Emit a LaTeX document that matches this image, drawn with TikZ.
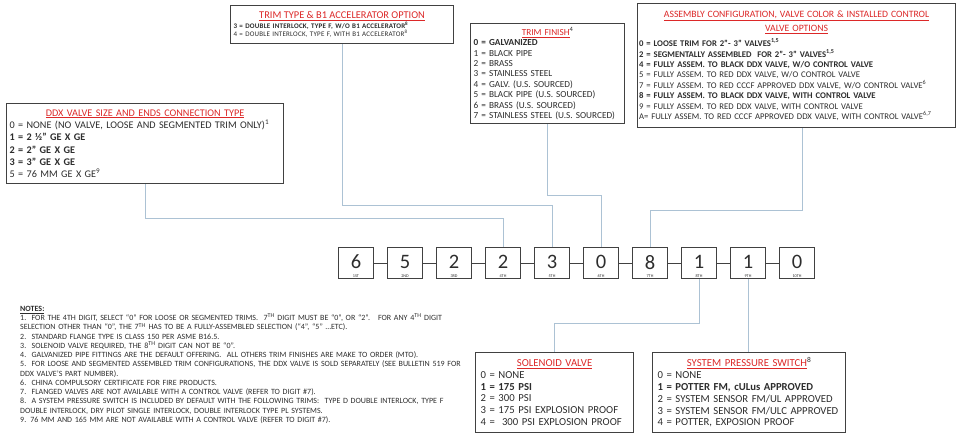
\documentclass[tikz,border=0pt]{standalone}
\usepackage{fontspec}
\setmainfont{Carlito}
\definecolor{optred}{RGB}{220,40,40}
\definecolor{boxgray}{RGB}{65,65,65}
\definecolor{linkblue}{RGB}{172,194,212}
\definecolor{txtgray}{RGB}{45,45,45}
\newcommand{\opttitle}[1]{\textcolor{optred}{\underline{#1}}}

\tikzset{
  optbox/.style={draw=boxgray, line width=1.2pt, fill=white, anchor=north west,
    inner xsep=3pt, inner ysep=2pt, align=left, text=txtgray},
  digitbox/.style={draw=boxgray, line width=1pt, minimum width=35pt, minimum height=31pt,
    inner sep=0pt, anchor=north west, text=txtgray, font=\fontsize{20.5}{20.5}\selectfont},
  ordlabel/.style={font=\fontsize{4.2}{4.2}\selectfont, text=txtgray, inner sep=0pt},
  link/.style={draw=linkblue, line width=0.9pt},
  chain/.style={draw=boxgray, line width=1pt},
}

\begin{document}
\begin{tikzpicture}[x=1pt,y=-1pt]
\useasboundingbox (0,0) rectangle (956,436);

% option boxes
\node[optbox, text width=271pt, minimum width=277pt, minimum height=80pt, font=\fontsize{10.2}{12.3}\selectfont] (ddx) at (6,103) {%
{\centering\opttitle{DDX VALVE SIZE AND ENDS CONNECTION TYPE}\par}
0 = NONE (NO VALVE, LOOSE AND SEGMENTED TRIM ONLY)\textsuperscript{1}\\
\textbf{1 = 2 ½'' GE X GE}\\
\textbf{2 = 2'' GE X GE}\\
\textbf{3 = 3'' GE X GE}\\
5 = 76 MM GE X GE\textsuperscript{9}};

\node[optbox, text width=217pt, minimum width=223pt, minimum height=38pt, font=\fontsize{7}{8.4}\selectfont\addfontfeature{LetterSpace=3}] (trimtype) at (230,5) {%
{\centering\fontsize{10.4}{11.5}\selectfont\addfontfeature{LetterSpace=0}\opttitle{TRIM TYPE \& B1 ACCELERATOR OPTION}\par}
\textbf{3 = DOUBLE INTERLOCK, TYPE F, W/O B1 ACCELERATOR\textsuperscript{8}}\\
4 = DOUBLE INTERLOCK, TYPE F, WITH B1 ACCELERATOR\textsuperscript{8}};

\node[optbox, text width=148pt, minimum width=154pt, minimum height=100pt, font=\fontsize{9.25}{10.4}\selectfont] (finish) at (470,23) {%
{\centering\opttitle{TRIM FINISH}\textsuperscript{4}\par}
\textbf{0 = GALVANIZED}\\
1 = BLACK PIPE\\
2 = BRASS\\
3 = STAINLESS STEEL\\
4 = GALV. (U.S. SOURCED)\\
5 = BLACK PIPE (U.S. SOURCED)\\
6 = BRASS (U.S. SOURCED)\\
7 = STAINLESS STEEL (U.S. SOURCED)};

\node[optbox, inner xsep=1.5pt, text width=315pt, minimum width=318pt, minimum height=124pt, font=\fontsize{8.7}{10.4}\selectfont] (assembly) at (637,3) {%
{\centering\fontsize{9.7}{14}\selectfont\opttitle{ASSEMBLY CONFIGURATION, VALVE COLOR \& INSTALLED CONTROL}\\
\opttitle{VALVE OPTIONS}\par}
\vspace{5pt}
\textbf{0 = LOOSE TRIM FOR 2''- 3'' VALVES\textsuperscript{1,5}}\\
\textbf{2 = SEGMENTALLY ASSEMBLED\ \ FOR 2''- 3'' VALVES\textsuperscript{1,5}}\\
\textbf{4 = FULLY ASSEM. TO BLACK DDX VALVE, W/O CONTROL VALVE}\\
5 = FULLY ASSEM. TO RED DDX VALVE, W/O CONTROL VALVE\\
7 = FULLY ASSEM. TO RED CCCF APPROVED DDX VALVE, W/O CONTROL VALVE\textsuperscript{6}\\
\textbf{8 = FULLY ASSEM. TO BLACK DDX VALVE, WITH CONTROL VALVE}\\
9 = FULLY ASSEM. TO RED DDX VALVE, WITH CONTROL VALVE\\
A= FULLY ASSEM. TO RED CCCF APPROVED DDX VALVE, WITH CONTROL VALVE\textsuperscript{6,7}};

\node[optbox, inner xsep=5pt, text width=148pt, minimum width=158pt, minimum height=80pt, font=\fontsize{10.7}{11.8}\selectfont] (solenoid) at (475,352) {%
{\centering\opttitle{SOLENOID VALVE}\par}
0 = NONE\\
\textbf{1 = 175 PSI}\\
2 = 300 PSI\\
3 = 175 PSI EXPLOSION PROOF\\
4 =\ \ 300 PSI EXPLOSION PROOF};

\node[optbox, inner xsep=5pt, text width=183pt, minimum width=193pt, minimum height=80pt, font=\fontsize{10.7}{11.8}\selectfont] (pswitch) at (652,352) {%
{\centering\opttitle{SYSTEM PRESSURE SWITCH}\textsuperscript{8}\par}
0 = NONE\\
\textbf{1 = POTTER FM, cULus APPROVED}\\
2 = SYSTEM SENSOR FM/UL APPROVED\\
3 = SYSTEM SENSOR FM/ULC APPROVED\\
4 = POTTER, EXPOSION PROOF};

% digit row
\foreach \val/\ord [count=\i] in {6/1ST,5/2ND,2/3RD,2/4TH,3/5TH,0/6TH,8/7TH,1/8TH,1/9TH,0/10TH}{
  \node[digitbox] (d\i) at ({338+49*(\i-1)},247) {\raisebox{2pt}{\val}};
  \node[ordlabel, above=1.5pt] (o\i) at (d\i.south) {\ord};
}
\foreach \i [evaluate=\i as \j using int(\i+1)] in {1,...,9}{
  \path[chain] (d\i) edge [] node[]{} (d\j);
}

% links from option boxes to digits
\draw[link] (ddx.south) |- (d4.north |- 0,218) -- (d4.north);
\draw[link] (trimtype.south) |- (d5.north |- 0,205) -- (d5.north);
\draw[link] (finish.south) |- (d6.north |- 0,195) -- (d6.north);
\draw[link] (assembly.south -| 802,0) |- (d7.north |- 0,210) -- (d7.north);
\draw[link] (d8.south) |- (solenoid.north |- 0,323) -- (solenoid.north);
\draw[link] (d9.south) -- (d9.south |- pswitch.north);

% notes
\node[anchor=north west, inner sep=0pt, text width=452pt, align=left, text=txtgray,
  font=\fontsize{8}{9.25}\selectfont] (notes) at (20,306) {%
\textbf{\underline{NOTES:}}\\
1.\ \ FOR THE 4TH DIGIT, SELECT “0” FOR LOOSE OR SEGMENTED TRIMS.\ \ 7\textsuperscript{TH} DIGIT MUST BE “0”, OR “2”.\ \ \ FOR ANY 4\textsuperscript{TH} DIGIT\\
SELECTION OTHER THAN “0”, THE 7\textsuperscript{TH} HAS TO BE A FULLY-ASSEMBLED SELECTION (“4”, “5” …ETC).\\
2.\ \ STANDARD FLANGE TYPE IS CLASS 150 PER ASME B16.5.\\
3.\ \ SOLENOID VALVE REQUIRED, THE 8\textsuperscript{TH} DIGIT CAN NOT BE “0”.\\
4.\ \ GALVANIZED PIPE FITTINGS ARE THE DEFAULT OFFERING.\ \ ALL OTHERS TRIM FINISHES ARE MAKE TO ORDER (MTO).\\
5.\ \ FOR LOOSE AND SEGMENTED ASSEMBLED TRIM CONFIGURATIONS, THE DDX VALVE IS SOLD SEPARATELY (SEE BULLETIN 519 FOR\\
DDX VALVE’S PART NUMBER).\\
6.\ \ CHINA COMPULSORY CERTIFICATE FOR FIRE PRODUCTS.\\
7.\ \ FLANGED VALVES ARE NOT AVAILABLE WITH A CONTROL VALVE (REFER TO DIGIT \#7).\\
8.\ \ A SYSTEM PRESSURE SWITCH IS INCLUDED BY DEFAULT WITH THE FOLLOWING TRIMS:\ \ TYPE D DOUBLE INTERLOCK, TYPE F\\
DOUBLE INTERLOCK, DRY PILOT SINGLE INTERLOCK, DOUBLE INTERLOCK TYPE PL SYSTEMS.\\
9. 76 MM AND 165 MM ARE NOT AVAILABLE WITH A CONTROL VALVE (REFER TO DIGIT \#7).};
\end{tikzpicture}
\end{document}
